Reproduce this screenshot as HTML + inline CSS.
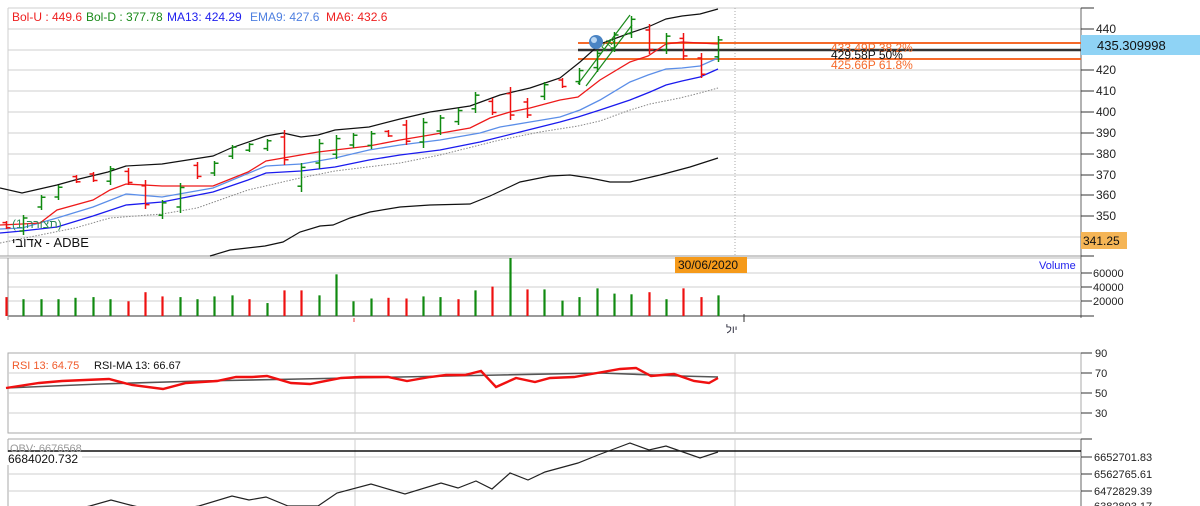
<!DOCTYPE html>
<html><head><meta charset="utf-8"><style>
html,body{margin:0;padding:0;background:#fff;}
svg{display:block;font-family:"Liberation Sans","Noto Sans CJK JP",sans-serif;}
</style></head><body>
<svg width="1200" height="506" viewBox="0 0 1200 506" xmlns="http://www.w3.org/2000/svg">
<rect width="1200" height="506" fill="#fff"/>
<!-- main panel grid -->
<g stroke="#cfcfcf" stroke-width="1">
<line x1="8" y1="8" x2="1081" y2="8"/>
<line x1="8" y1="29" x2="1081" y2="29"/><line x1="8" y1="50" x2="1081" y2="50"/><line x1="8" y1="70" x2="1081" y2="70"/>
<line x1="8" y1="91" x2="1081" y2="91"/><line x1="8" y1="112" x2="1081" y2="112"/><line x1="8" y1="133" x2="1081" y2="133"/>
<line x1="8" y1="154" x2="1081" y2="154"/><line x1="8" y1="175" x2="1081" y2="175"/><line x1="8" y1="195" x2="1081" y2="195"/>
<line x1="8" y1="216" x2="1081" y2="216"/><line x1="8" y1="237" x2="1081" y2="237"/>
<line x1="8" y1="8" x2="8" y2="256"/>
</g>
<line x1="735" y1="8" x2="735" y2="256" stroke="#aaa" stroke-dasharray="1,2"/>
<line x1="0" y1="256" x2="1081" y2="256" stroke="#999"/>
<line x1="0" y1="258" x2="1081" y2="258" stroke="#bbb"/>
<!-- axis -->
<line x1="1081" y1="8" x2="1081" y2="318" stroke="#666"/>
<g stroke="#333"><line x1="1081" y1="8" x2="1094" y2="8"/><line x1="1081" y1="29" x2="1094" y2="29"/><line x1="1081" y1="50" x2="1094" y2="50"/><line x1="1081" y1="70" x2="1094" y2="70"/><line x1="1081" y1="91" x2="1094" y2="91"/><line x1="1081" y1="112" x2="1094" y2="112"/><line x1="1081" y1="133" x2="1094" y2="133"/><line x1="1081" y1="154" x2="1094" y2="154"/><line x1="1081" y1="175" x2="1094" y2="175"/><line x1="1081" y1="195" x2="1094" y2="195"/><line x1="1081" y1="216" x2="1094" y2="216"/><line x1="1081" y1="237" x2="1094" y2="237"/><line x1="1081" y1="256" x2="1094" y2="256"/></g>
<g font-size="12" fill="#222">
<text x="1096" y="33">440</text><text x="1096" y="54">430</text><text x="1096" y="74">420</text><text x="1096" y="95">410</text><text x="1096" y="116">400</text><text x="1096" y="137">390</text><text x="1096" y="158">380</text><text x="1096" y="179">370</text><text x="1096" y="199">360</text><text x="1096" y="220">350</text><text x="1096" y="241">340</text>
</g>
<rect x="1081" y="35" width="119" height="20" fill="#8fd3f5"/>
<text x="1097" y="50" font-size="13" fill="#111">435.309998</text>
<rect x="1081" y="232" width="46" height="17" fill="#f5b556"/>
<text x="1083" y="245" font-size="12" fill="#111">341.25</text>
<!-- fib lines -->
<line x1="578" y1="43" x2="1081" y2="43" stroke="#f56a2a" stroke-width="2"/>
<line x1="578" y1="50" x2="1081" y2="50" stroke="#333" stroke-width="2.5"/>
<line x1="578" y1="59" x2="1081" y2="59" stroke="#f56a2a" stroke-width="2"/>
<g font-size="12"><text x="831" y="52" fill="#f56a2a">433.49P  38.2%</text><text x="831" y="59" fill="#111">429.58P  50%</text><text x="831" y="69" fill="#f56a2a">425.66P  61.8%</text></g>
<!-- lines -->
<polyline fill="none" stroke="#888" stroke-width="1" stroke-dasharray="1.5,1.5" points="0,243 40,235 75,228 110,218 162,214 197,208 248,190 300,178 335,171 400,163 440,155 480,145 500,140 540,132 578,126 600,121 630,110 650,104 680,98 700,93 718,88"/>
<polyline fill="none" stroke="#111" stroke-width="1.2" points="0,188 22,193 57,185 75,180 108,172 126,166 162,164 213,156 231,148 266,136 283,133 301,137 318,135 335,130 369,127 400,119 430,112 470,106 500,95 530,88 560,78 580,62 600,44 630,33 648,27 666,19 682,16 700,14 718,9"/>
<polyline fill="none" stroke="#111" stroke-width="1.2" points="210,256 230,250 265,246 283,242 300,232 320,226 333,225 350,218 370,212 400,207 430,205 470,204 490,196 520,182 550,176 570,175 590,178 610,182 630,182 660,175 690,167 718,158"/>
<polyline fill="none" stroke="#1a1aee" stroke-width="1.3" points="0,233 22,231 57,227 93,216 126,205 162,202 213,192 248,180 266,173 301,171 335,167 369,160 400,155 440,150 480,142 520,132 560,122 578,117 600,110 630,100 650,92 666,85 682,81 700,77 718,69"/>
<polyline fill="none" stroke="#5b8ee8" stroke-width="1.3" points="0,229 22,228 57,218 93,207 126,194 162,197 213,188 266,166 301,164 335,158 369,150 400,145 440,140 480,133 500,127 530,122 560,117 580,110 600,100 630,82 648,75 666,69 682,68 700,66 718,58"/>
<polyline fill="none" stroke="#ee1a1a" stroke-width="1.3" points="0,225 22,224 40,223 57,210 93,200 110,190 126,184 162,186 213,186 248,172 266,161 318,152 369,146 400,140 430,135 470,128 490,118 510,112 530,108 560,100 578,97 600,80 630,62 648,56 666,44 682,42 700,43 718,44"/>
<!-- fib drawing -->
<g stroke="#1a8a1a" stroke-width="1.2" fill="none"><line x1="578" y1="84" x2="630" y2="15"/><line x1="586" y1="86" x2="632" y2="25"/></g>
<text x="606" y="52" font-size="10" fill="#1a8a1a" transform="rotate(-50 606 52)">Fib</text>
<circle cx="596" cy="42" r="7" fill="#4a84c4"/><circle cx="594" cy="40" r="3" fill="#b9d6f2"/>
<!-- bars -->
<g id="bars" stroke-width="1.5"></g>
<!-- header texts -->
<g font-size="12"><text x="12" y="21" fill="#ee2020">Bol-U : 449.6</text><text x="86" y="21" fill="#1a8a1a">Bol-D : 377.78</text><text x="167" y="21" fill="#2020ee">MA13:  424.29</text><text x="250" y="21" fill="#4f80e0">EMA9:  427.6</text><text x="326" y="21" fill="#ee2020">MA6:  432.6</text></g>
<text x="12" y="228" font-size="12" fill="#2a8a5a">(תצורה 1)</text>
<text x="12" y="247" font-size="13" fill="#111">אדובי - ADBE</text>
<!-- volume panel -->
<g stroke="#cfcfcf"><line x1="8" y1="273" x2="1081" y2="273"/><line x1="8" y1="287" x2="1081" y2="287"/><line x1="8" y1="301" x2="1081" y2="301"/></g>
<line x1="8" y1="316" x2="1094" y2="316" stroke="#333"/>
<line x1="8" y1="258" x2="8" y2="320" stroke="#999"/>
<g stroke="#333"><line x1="1081" y1="273" x2="1092" y2="273"/><line x1="1081" y1="287" x2="1092" y2="287"/><line x1="1081" y1="301" x2="1092" y2="301"/></g>
<g font-size="11" fill="#222"><text x="1093" y="277">60000</text><text x="1093" y="291">40000</text><text x="1093" y="305">20000</text></g>
<text x="1039" y="269" font-size="11" fill="#2020ee">Volume</text>
<rect x="675" y="257" width="72" height="16" fill="#f59a1a"/>
<text x="678" y="269" font-size="12" fill="#111">30/06/2020</text>
<g id="vols" stroke-width="2.2"></g>
<line x1="744" y1="314" x2="744" y2="322" stroke="#333"/>
<line x1="354" y1="318" x2="354" y2="322" stroke="#e33"/>
<text x="726" y="333" font-size="11" fill="#334">יול</text>
<!-- RSI panel -->
<rect x="8" y="353" width="1073" height="80" fill="none" stroke="#aaa"/>
<g stroke="#cfcfcf"><line x1="8" y1="373" x2="1081" y2="373"/><line x1="8" y1="393" x2="1081" y2="393"/><line x1="8" y1="413" x2="1081" y2="413"/><line x1="355" y1="353" x2="355" y2="433"/><line x1="735" y1="353" x2="735" y2="433"/></g>
<g stroke="#333"><line x1="1081" y1="353" x2="1092" y2="353"/><line x1="1081" y1="373" x2="1092" y2="373"/><line x1="1081" y1="393" x2="1092" y2="393"/><line x1="1081" y1="413" x2="1092" y2="413"/></g>
<g font-size="11" fill="#222"><text x="1095" y="357">90</text><text x="1095" y="377">70</text><text x="1095" y="397">50</text><text x="1095" y="417">30</text></g>
<text x="12" y="369" font-size="11" fill="#f05a2a">RSI 13: 64.75</text>
<text x="94" y="369" font-size="11" fill="#111">RSI-MA 13: 66.67</text>
<polyline fill="none" stroke="#555" stroke-width="1.6" points="6,388 100,384 200,381 300,379 400,377 500,375 600,373 680,376 718,377"/>
<polyline fill="none" stroke="#f01010" stroke-width="2.4" points="6,388 39,383 62,381 85,380 109,379 132,385 163,389 186,383 217,381 236,377 252,377 267,376 291,383 310,384 341,378 360,377 388,377 407,381 430,377 446,375 465,375 481,371 496,387 516,378 535,382 550,378 574,377 597,373 620,369 636,368 651,376 674,374 694,381 709,383 718,378"/>
<!-- OBV panel -->
<line x1="8" y1="439" x2="1081" y2="439" stroke="#aaa"/>
<line x1="8" y1="439" x2="8" y2="506" stroke="#aaa"/>
<line x1="1081" y1="439" x2="1081" y2="506" stroke="#666"/>
<g stroke="#cfcfcf"><line x1="8" y1="457" x2="1081" y2="457"/><line x1="8" y1="474" x2="1081" y2="474"/><line x1="8" y1="491" x2="1081" y2="491"/><line x1="355" y1="439" x2="355" y2="506"/><line x1="735" y1="439" x2="735" y2="506"/></g>
<g stroke="#333"><line x1="1081" y1="439" x2="1092" y2="439"/><line x1="1081" y1="457" x2="1092" y2="457"/><line x1="1081" y1="474" x2="1092" y2="474"/><line x1="1081" y1="491" x2="1092" y2="491"/></g>
<g font-size="11" fill="#222"><text x="1094" y="461">6652701.83</text><text x="1094" y="478">6562765.61</text><text x="1094" y="495">6472829.39</text><text x="1094" y="510">6382893.17</text></g>
<line x1="8" y1="451" x2="1081" y2="451" stroke="#111" stroke-width="1.5"/>
<polyline fill="none" stroke="#222" stroke-width="1.2" points="60,512 90,506 111,500 130,505 160,512 199,506 232,496 249,500 266,497 288,506 318,506 337,493 371,484 405,494 441,483 458,488 476,481 492,489 510,473 528,480 545,472 578,463 598,455 614,449 630,443 649,450 666,446 683,452 700,458 718,452"/>
<text x="10" y="452" font-size="11" fill="#999">OBV: 6676568</text>
<rect x="6" y="452" width="76" height="13" fill="#fff"/>
<text x="8" y="463" font-size="12" fill="#111">6684020.732</text>
<script>
var bars=[[6,221,229,'r'],[23.4,215,235,'g'],[40.7,195,210,'g'],[58,185,200,'g'],[75.5,175,183,'r'],[92.9,172,182,'r'],[110,166,185,'g'],[127.6,168,185,'r'],[145,180,209,'r'],[162,200,219,'g'],[179.7,183,213,'g'],[197,162,179,'r'],[214,161,176,'g'],[231.8,145,159,'g'],[249,143,152,'g'],[266.6,139,151,'g'],[284,130,165,'r'],[301,163,192,'g'],[318.7,139,169,'g'],[336,135,159,'g'],[353,133,148,'g'],[370.8,131,149,'g'],[388,130,137,'r'],[405.5,120,145,'r'],[422.9,118,148,'g'],[440,115,135,'g'],[457.6,108,125,'g'],[475,92,113,'g'],[492,98,115,'r'],[509.7,87,120,'r'],[527,98,118,'r'],[544,82,100,'g'],[561.8,78,88,'r'],[579,68,85,'g'],[596.6,50,72,'g'],[614,32,52,'g'],[631,16,38,'g'],[648.7,24,54,'r'],[666,33,54,'g'],[683.4,33,60,'r'],[700.8,53,78,'r'],[718,36,62,'g']];
var vols=[['r',27],['g',24],['g',24],['g',24],['g',26],['g',27],['g',24],['r',21],['r',34],['r',28],['g',27],['g',24],['g',28],['g',29.5],['r',24],['g',18.5],['r',36.6],['r',36.6],['g',29.5],['g',59.5],['g',21],['g',25],['r',26],['r',25],['g',28],['g',27],['r',24],['g',36.6],['r',42],['g',84],['r',38],['g',38],['g',22],['g',27],['g',39.5],['g',32],['g',31],['r',34],['g',24],['r',39.5],['r',27],['g',29.5]];
var ns='http://www.w3.org/2000/svg',gb=document.getElementById('bars'),gv=document.getElementById('vols');
function L(g,x1,y1,x2,y2,c){var l=document.createElementNS(ns,'line');l.setAttribute('x1',x1);l.setAttribute('y1',y1);l.setAttribute('x2',x2);l.setAttribute('y2',y2);l.setAttribute('stroke',c);g.appendChild(l);}
bars.forEach(function(b){var x=Math.round(b[0])+0.5,c=b[3]=='g'?'#108a10':'#ee1010';L(gb,x,b[1],x,b[2],c);var h=b[2]-b[1];var o,cl;if(b[3]=='g'){o=b[2]-h*0.2;cl=b[1]+h*0.15;}else{o=b[1]+h*0.2;cl=b[2]-h*0.15;}L(gb,x-4,o,x,o,c);L(gb,x,cl,x+4,cl,c);});
vols.forEach(function(v,i){var x=Math.round(6+i*17.37)+0.5,c=v[0]=='g'?'#108a10':'#ee1010';var y=316-v[1]*1000/20000*14;if(y<258)y=258;L(gv,x,316,x,y,c);});
</script>
</svg>
</body></html>
